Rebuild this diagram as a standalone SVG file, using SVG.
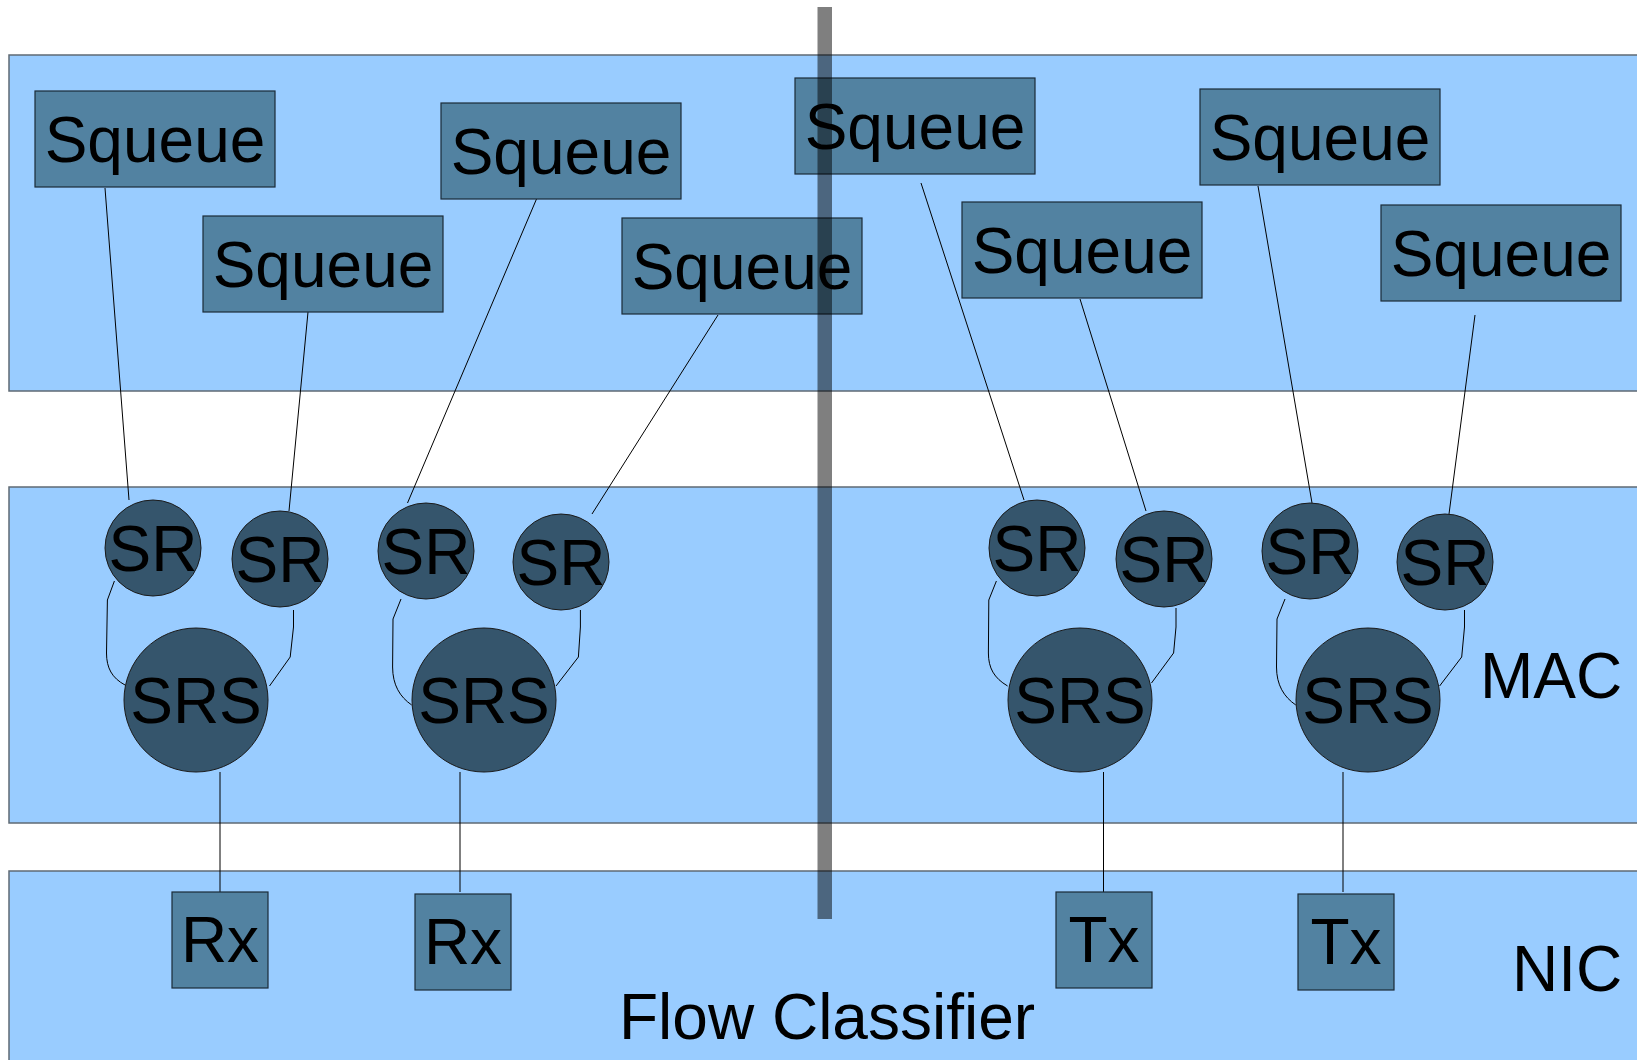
<svg xmlns="http://www.w3.org/2000/svg" width="1637" height="1060" viewBox="0 0 1637 1060">
<style>
.band{fill:#99ccff;stroke:#5f6a74;stroke-width:1.5}
.sq{fill:#5282a1;stroke:#1c2b38;stroke-width:1.2}
.nd{fill:#35556c;stroke:#1a1a1a;stroke-width:1}
.t{font-family:"Liberation Sans",Arial,sans-serif;font-size:64px;fill:#000;text-anchor:middle}
.c{font-family:"Liberation Sans",Arial,sans-serif;font-size:64px;fill:#000;text-anchor:middle}
.lbl{font-family:"Liberation Sans",Arial,sans-serif;font-size:64px;fill:#000}
.ln{fill:none;stroke:#000;stroke-width:1}
</style>
<rect width="1637" height="1060" fill="#ffffff"/>
<g id="band-top"><rect class="band" x="9" y="55" width="1640" height="336"/></g>
<g id="band-mac"><rect class="band" x="9" y="487" width="1640" height="336"/><text class="lbl" x="1480" y="698">MAC</text></g>
<g id="band-nic"><rect class="band" x="9" y="871" width="1640" height="200"/><text class="lbl" x="1512" y="991">NIC</text><text class="lbl" x="619" y="1039">Flow Classifier</text></g>

<g id="connectors">
<line class="ln" x1="105" y1="188" x2="129" y2="500"/>
<line class="ln" x1="308" y1="312" x2="289" y2="511"/>
<line class="ln" x1="536.5" y1="199" x2="407.5" y2="503"/>
<line class="ln" x1="718" y1="315" x2="592" y2="514"/>
<line class="ln" x1="921" y1="183" x2="1024" y2="500"/>
<line class="ln" x1="1080" y1="299" x2="1146" y2="511"/>
<line class="ln" x1="1258" y1="186" x2="1312" y2="503"/>
<line class="ln" x1="1475" y1="315" x2="1449" y2="514"/>
<path class="ln" d="M114.4,581 L107.4,600 L106.5,653 C106.5,668 112,678 125,685"/>
<path class="ln" d="M293.5,610 L293.5,627 L290.2,657 L269.5,686"/>
<path class="ln" d="M401,599 L393,619 L392.6,667 C392.6,685 400,697 411.7,705"/>
<path class="ln" d="M580.4,610 L580.4,627 L578.4,657 L556,686"/>
<path class="ln" d="M996.4,581 L988.8,600 L988.4,653 C988.4,668 994,678 1007.6,686"/>
<path class="ln" d="M1176,608 L1176,627 L1173.6,653 L1151.5,683"/>
<path class="ln" d="M1285,599 L1277,619 L1276.5,667 C1276.5,685 1284,697 1295.8,705"/>
<path class="ln" d="M1464.5,610 L1464.5,627 L1461.7,657 L1439.6,686"/>
<line class="ln" x1="220" y1="772" x2="220" y2="892"/>
<line class="ln" x1="460" y1="772" x2="460" y2="892"/>
<line class="ln" x1="1103.5" y1="772" x2="1103.5" y2="892"/>
<line class="ln" x1="1343" y1="772" x2="1343" y2="892"/>
</g>

<g id="squeue1"><rect class="sq" x="35" y="91" width="240" height="96"/><text class="t" x="155" y="162">Squeue</text></g>
<g id="squeue2"><rect class="sq" x="203" y="216" width="240" height="96"/><text class="t" x="323" y="287">Squeue</text></g>
<g id="squeue3"><rect class="sq" x="441" y="103" width="240" height="96"/><text class="t" x="561" y="174">Squeue</text></g>
<g id="squeue4"><rect class="sq" x="622" y="218" width="240" height="96"/><text class="t" x="742" y="289">Squeue</text></g>
<g id="squeue5"><rect class="sq" x="795" y="78" width="240" height="96"/><text class="t" x="915" y="149">Squeue</text></g>
<g id="squeue6"><rect class="sq" x="962" y="202" width="240" height="96"/><text class="t" x="1082" y="273">Squeue</text></g>
<g id="squeue7"><rect class="sq" x="1200" y="89" width="240" height="96"/><text class="t" x="1320" y="160">Squeue</text></g>
<g id="squeue8"><rect class="sq" x="1381" y="205" width="240" height="96"/><text class="t" x="1501" y="276">Squeue</text></g>

<g id="sr1"><circle class="nd" cx="153" cy="548" r="48"/><text class="c" x="153" y="571">SR</text></g>
<g id="sr2"><circle class="nd" cx="280" cy="559" r="48"/><text class="c" x="280" y="582">SR</text></g>
<g id="sr3"><circle class="nd" cx="426" cy="551" r="48"/><text class="c" x="426" y="574">SR</text></g>
<g id="sr4"><circle class="nd" cx="561" cy="562" r="48"/><text class="c" x="561" y="585">SR</text></g>
<g id="sr5"><circle class="nd" cx="1037" cy="548" r="48"/><text class="c" x="1037" y="571">SR</text></g>
<g id="sr6"><circle class="nd" cx="1164" cy="559" r="48"/><text class="c" x="1164" y="582">SR</text></g>
<g id="sr7"><circle class="nd" cx="1310" cy="551" r="48"/><text class="c" x="1310" y="574">SR</text></g>
<g id="sr8"><circle class="nd" cx="1445" cy="562" r="48"/><text class="c" x="1445" y="585">SR</text></g>

<g id="srs1"><circle class="nd" cx="196" cy="700" r="72"/><text class="c" x="196" y="723">SRS</text></g>
<g id="srs2"><circle class="nd" cx="484" cy="700" r="72"/><text class="c" x="484" y="723">SRS</text></g>
<g id="srs3"><circle class="nd" cx="1080" cy="700" r="72"/><text class="c" x="1080" y="723">SRS</text></g>
<g id="srs4"><circle class="nd" cx="1368" cy="700" r="72"/><text class="c" x="1368" y="723">SRS</text></g>

<g id="rx1"><rect class="sq" x="172" y="892" width="96" height="96"/><text class="t" x="220" y="962">Rx</text></g>
<g id="rx2"><rect class="sq" x="415" y="894" width="96" height="96"/><text class="t" x="463" y="964">Rx</text></g>
<g id="tx1"><rect class="sq" x="1056" y="892" width="96" height="96"/><text class="t" x="1104" y="962">Tx</text></g>
<g id="tx2"><rect class="sq" x="1298" y="894" width="96" height="96"/><text class="t" x="1346" y="964">Tx</text></g>

<g id="divider"><rect x="817.5" y="7" width="14.5" height="912" fill="#000" fill-opacity="0.5"/></g>
</svg>
